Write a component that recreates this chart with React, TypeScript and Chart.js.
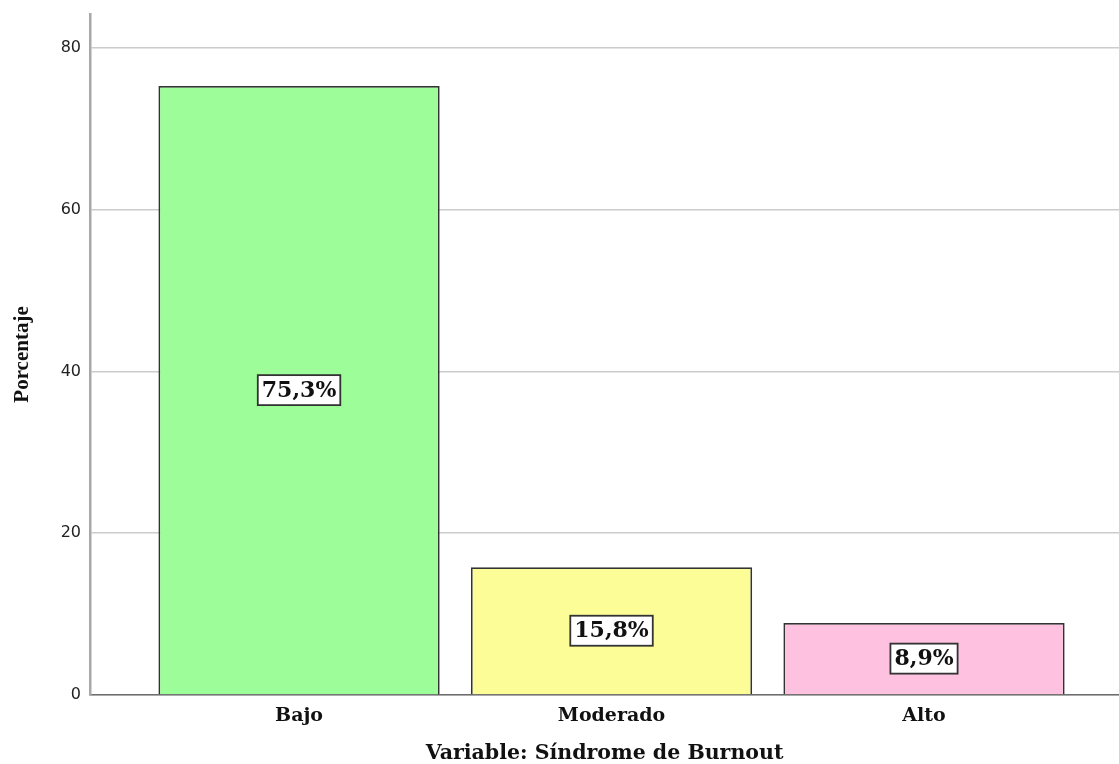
import React, { useEffect, useRef } from "react";
import { Chart, registerables } from "chart.js";

Chart.register(...registerables);

const categories = ["Bajo", "Moderado", "Alto"];
const percentages = [75.3, 15.8, 8.9];
const barColors = ["#9dfd98", "#fdfd98", "#ffc1e0"];
const yTicks = [0, 20, 40, 60, 80];

const fmt = (v: number) => v.toFixed(1).replace(".", ",") + "%";

// Boxed percentage labels drawn in the middle of each bar
const boxedLabels = {
  id: "boxedLabels",
  afterDatasetsDraw(chart: any) {
    const ctx = chart.ctx;
    const meta = chart.getDatasetMeta(0);
    ctx.save();
    ctx.font = "bold 22px 'DejaVu Serif'";
    ctx.textAlign = "center";
    ctx.textBaseline = "middle";
    meta.data.forEach((bar: any, i: number) => {
      const text = fmt(percentages[i]);
      const cy = (bar.y + bar.base) / 2;
      const w = ctx.measureText(text).width + 8;
      const h = 30;
      ctx.fillStyle = "#ffffff";
      ctx.fillRect(bar.x - w / 2, cy - h / 2, w, h);
      ctx.strokeStyle = "#333333";
      ctx.lineWidth = 1.8;
      ctx.strokeRect(bar.x - w / 2, cy - h / 2, w, h);
      ctx.fillStyle = "#111111";
      ctx.fillText(text, bar.x, cy + 1);
    });
    ctx.restore();
  },
};

export default function App() {
  const canvasRef = useRef<HTMLCanvasElement>(null);

  useEffect(() => {
    document.body.style.margin = "0";
    const canvas = canvasRef.current!;
    const chart = new Chart(canvas, {
      type: "bar",
      data: {
        datasets: [
          {
            data: percentages.map((v, i) => ({ x: i + 1, y: v })),
            backgroundColor: barColors,
            borderColor: "#333333",
            borderWidth: 1.8,
            barPercentage: 0.9,
            categoryPercentage: 1,
          },
        ],
      },
      options: {
        responsive: false,
        animation: false,
        layout: { padding: { top: 14, right: 0, left: 0, bottom: 0 } },
        plugins: {
          legend: { display: false },
          tooltip: { enabled: false },
        },
        scales: {
          x: {
            type: "linear",
            offset: false,
            min: 0.331,
            max: 3.624,
            afterBuildTicks: (scale: any) => {
              scale.ticks = categories.map((_, i) => ({ value: i + 1 }));
            },
            afterFit: (scale: any) => {
              scale.height = 69;
              scale.paddingLeft = 0;
              scale.paddingRight = 0;
            },
            grid: { display: false, drawTicks: false, offset: false },
            border: { color: "#6e6e6e", width: 1.5 },
            ticks: {
              autoSkip: false,
              maxRotation: 0,
              padding: 10,
              color: "#111111",
              font: { family: "'DejaVu Serif'", size: 19, weight: "bold" },
              callback: (v: any) => categories[Number(v) - 1] ?? "",
            },
            title: {
              display: true,
              text: "Variable: Síndrome de Burnout",
              color: "#111111",
              font: { family: "'DejaVu Serif'", size: 20.5, weight: "bold" },
              padding: { top: 0, bottom: -2 },
            },
          },
          y: {
            min: 0,
            max: 84.2,
            afterBuildTicks: (scale: any) => {
              scale.ticks = yTicks.map((v) => ({ value: v }));
            },
            afterFit: (scale: any) => {
              scale.width = 90;
              scale.paddingTop = 0;
              scale.paddingBottom = 0;
            },
            grid: { color: "#cccccc", lineWidth: 1.5, drawTicks: false },
            border: { color: "#a8a8a8", width: 2.5 },
            ticks: {
              padding: 9,
              color: "#222222",
              font: { family: "'DejaVu Sans'", size: 16 },
            },
            title: {
              display: true,
              text: "Porcentaje",
              color: "#111111",
              font: { family: "'Liberation Serif'", size: 21, weight: "bold" },
              padding: { top: 10, bottom: 0 },
            },
          },
        },
      },
      plugins: [boxedLabels],
    });
    return () => chart.destroy();
  }, []);

  return (
    <div style={{ width: 1119, height: 764, background: "#ffffff" }}>
      <canvas ref={canvasRef} width={1119} height={764} style={{ display: "block" }} />
    </div>
  );
}
